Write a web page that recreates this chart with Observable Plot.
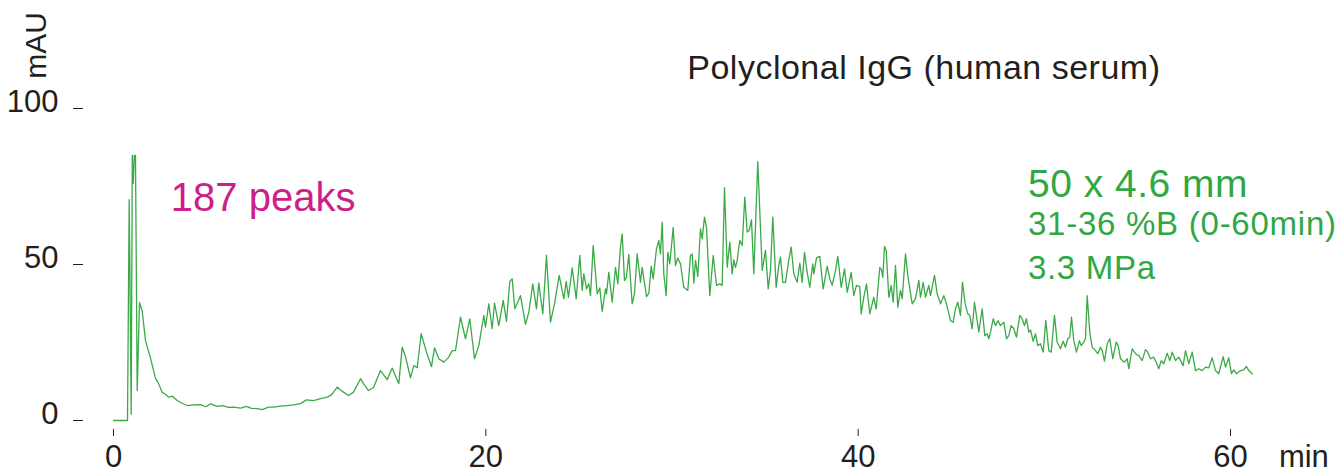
<!DOCTYPE html>
<html>
<head>
<meta charset="utf-8">
<script src="https://cdn.jsdelivr.net/npm/d3@7"></script>
<script src="https://cdn.jsdelivr.net/npm/@observablehq/plot@0.6"></script>
<style>
  html, body { margin: 0; padding: 0; background: #fff; }
</style>
</head>
<body>
<div id="chart"></div>
<script>
// Retention time (min)
const time = [0, 0.752, 0.843, 0.951, 1.01, 1.06, 1.12, 1.18, 1.273, 1.397, 1.542, 1.719, 1.987, 2.256, 2.417, 2.616, 2.793, 2.954, 3.169, 3.422, 3.653, 3.959, 4.297, 4.673, 4.942, 5.21, 5.57, 5.855, 6.177, 6.446, 6.822, 7.144, 7.413, 7.719, 8.003, 8.326, 8.594, 8.97, 9.33, 9.669, 10.045, 10.367, 10.743, 11.119, 11.479, 11.71, 12.016, 12.193, 12.354, 12.623, 12.891, 13.268, 13.429, 13.697, 13.966, 14.342, 14.701, 14.97, 15.325, 15.507, 15.685, 15.953, 16.131, 16.313, 16.528, 16.813, 17.081, 17.242, 17.473, 17.742, 18.01, 18.193, 18.37, 18.639, 18.907, 19.138, 19.391, 19.622, 19.891, 19.982, 20.159, 20.342, 20.465, 20.696, 20.932, 21.11, 21.287, 21.416, 21.556, 21.862, 22.13, 22.308, 22.523, 22.721, 22.845, 23.06, 23.258, 23.473, 23.688, 23.94, 24.188, 24.317, 24.44, 24.639, 24.854, 25.047, 25.176, 25.262, 25.407, 25.53, 25.622, 25.767, 25.982, 26.121, 26.25, 26.428, 26.481, 26.605, 26.787, 26.965, 27.088, 27.233, 27.324, 27.448, 27.555, 27.679, 27.861, 27.985, 28.13, 28.307, 28.399, 28.63, 28.754, 28.883, 28.99, 29.167, 29.291, 29.382, 29.473, 29.559, 29.688, 29.774, 29.881, 30.064, 30.187, 30.311, 30.456, 30.633, 30.848, 30.993, 31.085, 31.171, 31.262, 31.386, 31.53, 31.622, 31.745, 31.853, 32.03, 32.213, 32.39, 32.567, 32.696, 32.82, 32.965, 33.104, 33.233, 33.319, 33.41, 33.502, 33.641, 33.77, 33.91, 34.039, 34.146, 34.27, 34.393, 34.608, 34.845, 35.022, 35.167, 35.29, 35.414, 35.596, 35.736, 35.827, 35.951, 36.096, 36.273, 36.402, 36.542, 36.724, 36.864, 36.993, 37.117, 37.262, 37.401, 37.562, 37.616, 37.761, 37.938, 38.121, 38.336, 38.476, 38.605, 38.782, 38.906, 39.088, 39.266, 39.411, 39.626, 39.765, 39.91, 40.088, 40.163, 40.302, 40.447, 40.624, 40.839, 40.968, 41.162, 41.253, 41.323, 41.414, 41.505, 41.645, 41.774, 41.881, 42.005, 42.128, 42.273, 42.364, 42.542, 42.665, 42.901, 43.079, 43.256, 43.347, 43.492, 43.616, 43.793, 43.885, 44.1, 44.245, 44.422, 44.6, 44.744, 44.959, 45.104, 45.228, 45.351, 45.496, 45.603, 45.748, 45.888, 45.995, 46.124, 46.248, 46.393, 46.479, 46.662, 46.801, 46.93, 47.016, 47.108, 47.253, 47.376, 47.521, 47.645, 47.822, 47.967, 48.09, 48.219, 48.359, 48.504, 48.681, 48.81, 48.934, 49.041, 49.165, 49.256, 49.401, 49.525, 49.648, 49.793, 49.938, 50.078, 50.239, 50.368, 50.545, 50.69, 50.867, 51.012, 51.136, 51.26, 51.367, 51.458, 51.582, 51.727, 51.888, 51.979, 52.119, 52.21, 52.302, 52.441, 52.57, 52.748, 52.871, 53.016, 53.107, 53.231, 53.376, 53.516, 53.677, 53.86, 53.967, 54.091, 54.306, 54.451, 54.537, 54.719, 54.896, 55.074, 55.256, 55.433, 55.557, 55.702, 55.879, 56.024, 56.148, 56.277, 56.416, 56.599, 56.738, 56.867, 57.045, 57.222, 57.458, 57.582, 57.759, 57.942, 58.119, 58.296, 58.479, 58.656, 58.833, 59.016, 59.193, 59.37, 59.607, 59.731, 59.908, 60.053, 60.176, 60.321, 60.536, 60.714, 60.858, 60.982, 61.164];
// Absorbance (mAU)
const mAU = [0, 0, 70.8, 2, 85, 76, 85, 85, 9.6, 37.8, 35, 25.6, 20, 13.5, 11.9, 9, 8.4, 7.5, 7.8, 6.4, 5.6, 4.8, 5.0, 5.1, 4.4, 5.3, 4.5, 4.8, 4.2, 4.3, 4.0, 4.5, 3.9, 3.8, 3.5, 4.3, 4.3, 4.6, 4.8, 5.0, 5.4, 6.6, 6.4, 7.0, 7.5, 8.2, 10.7, 9.8, 9.1, 8, 9.1, 13.4, 11.8, 9.6, 10.6, 16, 13.1, 16.8, 11.8, 23.5, 20.5, 13.7, 17.6, 16.9, 27.8, 21.9, 17.3, 23.3, 19.8, 18.7, 20.3, 22.4, 22.4, 33.1, 26.2, 32.6, 19.8, 24, 33.7, 29.9, 37.4, 29.4, 37.6, 30.4, 38.5, 31.8, 44.6, 45.4, 35.8, 40, 30.8, 34.7, 43.8, 35.8, 44.1, 34.2, 52.9, 31.5, 37.4, 46.5, 39, 44.6, 39.5, 48.9, 39, 52.9, 41.7, 47.1, 42.2, 43.8, 40, 56.1, 40.6, 42.5, 35, 42.2, 40.6, 47.5, 37.9, 49.1, 43.8, 55.6, 59.8, 44.9, 45.9, 53.2, 37.4, 40.6, 53.4, 44.3, 49.1, 39.7, 40.8, 49.4, 45.4, 55, 57.7, 53.4, 63.6, 47, 40, 53.9, 50.2, 61.9, 49.7, 52.1, 50.2, 42.7, 41.7, 52.9, 53.4, 44, 51.3, 46.2, 61.4, 58.2, 65.2, 61.9, 40, 52.9, 43.3, 43.8, 43.3, 74.6, 49.1, 57.2, 47, 51.5, 49.1, 51.3, 57.7, 56.1, 71.6, 60.4, 60.9, 64.3, 47, 83, 48.1, 54.5, 42.2, 48.1, 65.2, 42.7, 49.7, 52.4, 44.3, 44.3, 51.5, 55.6, 47, 44.3, 50.4, 44.3, 53.9, 47.5, 42.7, 50.2, 47, 52.1, 52.6, 42.2, 49.5, 45.4, 43.3, 48.1, 52.6, 42.7, 48.6, 41.1, 47.5, 40, 43.3, 42.9, 34.2, 39.5, 43.8, 34.2, 39.5, 35.8, 49.1, 48.3, 45.9, 55.8, 54.5, 39.5, 43.3, 37.9, 49.7, 36.3, 41.7, 39, 53.4, 46.5, 37.4, 39, 44.9, 39.5, 44.3, 39.5, 43.3, 40, 46.5, 40.6, 37.4, 40, 37.4, 32, 31.5, 35.8, 37.9, 33.7, 44.3, 37.4, 34.2, 33.7, 29.4, 37.9, 32, 28.3, 35.8, 27.2, 27.8, 26.2, 28.3, 32.6, 30.4, 32, 30.4, 31.5, 26.2, 27.2, 30.4, 29.4, 26.7, 33.7, 32.6, 30.4, 32.6, 28.3, 29.0, 25.4, 27.8, 24, 24.6, 21.9, 32, 22.4, 21.9, 33.7, 25.1, 23, 25.4, 23.5, 26.2, 26.7, 33.1, 25.6, 21.9, 25.6, 24, 25.1, 26.2, 40, 28.3, 23.5, 22.4, 21.4, 23.5, 22.4, 19, 24.6, 26.2, 19.8, 25.1, 24, 19.8, 18.7, 19.8, 16.6, 23, 21.4, 20.8, 19.2, 22.7, 21.9, 19.8, 20.3, 18.4, 16.6, 19.2, 18.2, 21.6, 19.2, 21.9, 19.2, 20.3, 17.6, 22.4, 18.2, 21.9, 16, 16.6, 16, 17.1, 16.9, 20.1, 16, 15, 20.5, 17.1, 20.1, 15, 16.2, 15, 16, 16.2, 17.3, 16, 15];

const xTicks = [0, 20, 40, 60];
const yTicks = [0, 50, 100];

const data = time.map((t, i) => ({t, v: mAU[i]}));

const titleText = ["Polyclonal IgG (human serum)"];
const peaksText = ["187 peaks"];
const columnText = ["50 x 4.6 mm"];
const gradientText = ["31-36 %B (0-60min)"];
const pressureText = ["3.3 MPa"];

const ink = "#231f20";
const green = "#3aaa47";
const textGreen = "#31a744";
const magenta = "#cc1f8c";

const chart = Plot.plot({
  width: 1338,
  height: 470,
  marginLeft: 113,
  marginRight: 108,
  marginTop: 108,
  marginBottom: 50,
  x: {domain: [0, 60], axis: null},
  y: {domain: [0, 100], axis: null},
  style: {fontFamily: "'Liberation Sans', Arial, Helvetica, sans-serif", color: ink, background: "#fff", overflow: "visible"},
  marks: [
    // y axis: detached tick dashes and labels
    Plot.axisY(yTicks, {anchor: "left", tickSize: 10, dx: -30, fill: "none", stroke: ink, label: null}),
    Plot.axisY(yTicks, {anchor: "left", tickSize: 0, tickPadding: 25, dx: -30, dy: -6, fontSize: 31, fill: ink, label: null}),
    // x axis: detached ticks and labels
    Plot.axisX(xTicks, {anchor: "bottom", tickSize: 7, dy: 9, fill: "none", stroke: ink, label: null}),
    Plot.axisX(xTicks, {anchor: "bottom", tickSize: 0, tickPadding: 24, fontSize: 31, fill: ink, label: null}),
    // axis unit labels
    Plot.text(["mAU"], {x: -3.65, y: 120.2, rotate: -90, textAnchor: "middle", lineAnchor: "bottom", fontSize: 30, fill: ink}),
    Plot.text(["min"], {x: 62.6, y: -14.9, textAnchor: "start", lineAnchor: "bottom", fontSize: 31, fill: ink}),
    // chromatogram trace
    Plot.line(data, {x: "t", y: "v", stroke: green, strokeWidth: 1.3, strokeLinejoin: "round"}),
    // annotations
    Plot.text(titleText, {x: 30.82, y: 109.5, textAnchor: "start", lineAnchor: "bottom", fontSize: 34, fill: ink}),
    Plot.text(peaksText, {x: 3.08, y: 67.3, textAnchor: "start", lineAnchor: "bottom", fontSize: 40, fill: magenta}),
    Plot.text(columnText, {x: 49.12, y: 71.6, textAnchor: "start", lineAnchor: "bottom", fontSize: 39, fill: textGreen}),
    Plot.text(gradientText, {x: 49.12, y: 59.3, textAnchor: "start", lineAnchor: "bottom", fontSize: 33, fill: textGreen}),
    Plot.text(pressureText, {x: 49.12, y: 45.4, textAnchor: "start", lineAnchor: "bottom", fontSize: 33, fill: textGreen})
  ]
});

// slight tracking to match the reference's wider lettering
const spacing = new Map([
  [titleText[0], "0.5px"],
  [columnText[0], "0.5px"],
  [gradientText[0], "0.75px"],
  [pressureText[0], "0.7px"]
]);
d3.select(chart).selectAll("text").each(function () {
  const s = spacing.get(this.textContent);
  if (s) this.style.letterSpacing = s;
});

document.getElementById("chart").appendChild(chart);
</script>
</body>
</html>
